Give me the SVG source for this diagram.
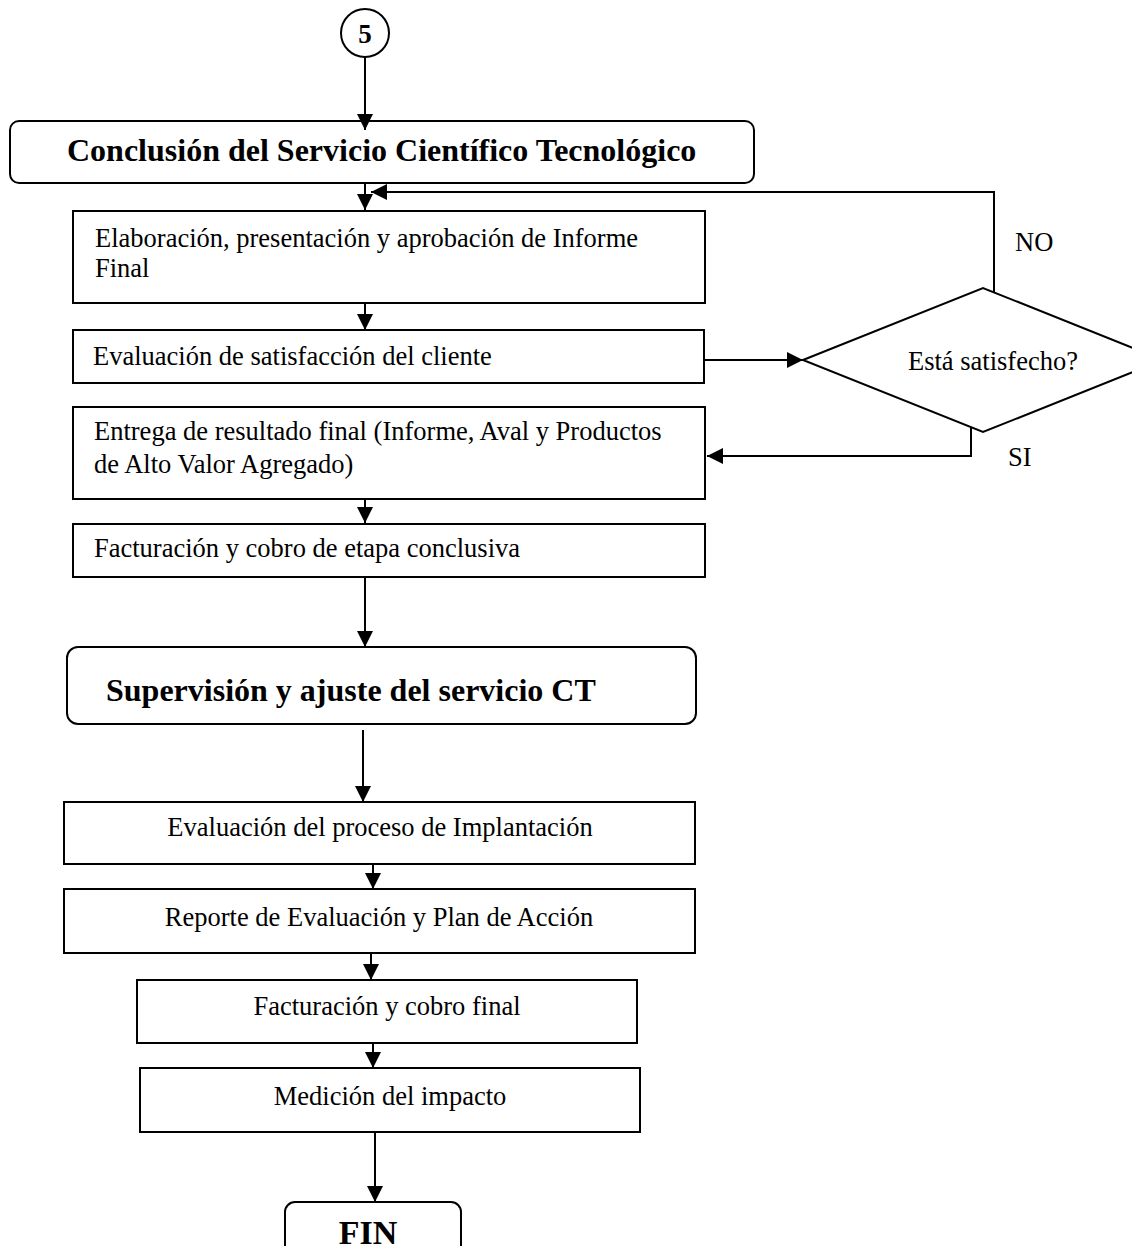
<svg xmlns="http://www.w3.org/2000/svg" width="1132" height="1246" viewBox="0 0 1132 1246">
<style>
.box{fill:#fff;stroke:#000;stroke-width:2}
.t{font-family:"Liberation Serif","Times New Roman",serif;font-size:26.5px;fill:#000}
.b{font-family:"Liberation Serif","Times New Roman",serif;font-size:32px;font-weight:bold;fill:#000}
.c{text-anchor:middle}
.ln{fill:none;stroke:#000;stroke-width:2}
</style>
<defs>
<marker id="ah" markerUnits="userSpaceOnUse" markerWidth="17" markerHeight="17" refX="16" refY="8.5" orient="auto">
<path d="M0,0.5 L16,8.5 L0,16.5 z" fill="#000"/>
</marker>
</defs>
<rect width="1132" height="1246" fill="#fff"/>

<g id="n5">
<circle class="box" cx="365" cy="33" r="24"/>
<text class="b c" x="365" y="43" style="font-size:27px">5</text>
</g>

<g id="conclusion">
<rect class="box" x="10" y="121" width="744" height="62" rx="9"/>
<text class="b" x="67" y="161">Conclusión del Servicio Científico Tecnológico</text>
</g>

<g id="elaboracion">
<rect class="box" x="73" y="211" width="632" height="92"/>
<text class="t" x="95" y="247">Elaboración, presentación y aprobación de Informe</text>
<text class="t" x="95" y="277">Final</text>
</g>

<g id="evaluacion-satisfaccion">
<rect class="box" x="73" y="330" width="631" height="53"/>
<text class="t" x="93" y="365">Evaluación de satisfacción del cliente</text>
</g>

<g id="decision">
<polygon class="box" points="803,360 983,288 1163,360 983,432"/>
<text class="t c" x="993" y="370">Está satisfecho?</text>
</g>
<g id="lbl-no"><text class="t" x="1015" y="251">NO</text></g>
<g id="lbl-si"><text class="t" x="1008" y="466">SI</text></g>

<g id="entrega">
<rect class="box" x="73" y="407" width="632" height="92"/>
<text class="t" x="94" y="440">Entrega de resultado final (Informe, Aval y Productos</text>
<text class="t" x="94" y="473">de Alto Valor Agregado)</text>
</g>

<g id="facturacion-etapa">
<rect class="box" x="73" y="524" width="632" height="53"/>
<text class="t" x="94" y="557">Facturación y cobro de etapa conclusiva</text>
</g>

<g id="supervision">
<rect class="box" x="67" y="647" width="629" height="77" rx="11"/>
<text class="b" x="106" y="701">Supervisión y ajuste del servicio CT</text>
</g>

<g id="evaluacion-implantacion">
<rect class="box" x="64" y="802" width="631" height="62"/>
<text class="t c" x="380" y="836">Evaluación del proceso de Implantación</text>
</g>

<g id="reporte">
<rect class="box" x="64" y="889" width="631" height="64"/>
<text class="t c" x="379" y="926">Reporte de Evaluación y Plan de Acción</text>
</g>

<g id="facturacion-final">
<rect class="box" x="137" y="980" width="500" height="63"/>
<text class="t c" x="387" y="1015">Facturación y cobro final</text>
</g>

<g id="medicion">
<rect class="box" x="140" y="1068" width="500" height="64"/>
<text class="t c" x="390" y="1105">Medición del impacto</text>
</g>

<g id="fin">
<rect class="box" x="285" y="1202" width="176" height="70" rx="10"/>
<text class="b c" x="368" y="1244" style="font-size:34px">FIN</text>
</g>

<g id="connectors">
<line class="ln" x1="365" y1="57" x2="365" y2="130" marker-end="url(#ah)"/>
<line class="ln" x1="365" y1="183" x2="365" y2="210" marker-end="url(#ah)"/>
<line class="ln" x1="365" y1="303" x2="365" y2="330" marker-end="url(#ah)"/>
<line class="ln" x1="705" y1="360" x2="803" y2="360" marker-end="url(#ah)"/>
<polyline class="ln" points="994,292 994,192 371,192" marker-end="url(#ah)"/>
<polyline class="ln" points="971,427 971,456 707,456" marker-end="url(#ah)"/>
<line class="ln" x1="365" y1="499" x2="365" y2="523" marker-end="url(#ah)"/>
<line class="ln" x1="365" y1="577" x2="365" y2="647" marker-end="url(#ah)"/>
<line class="ln" x1="363" y1="730" x2="363" y2="802" marker-end="url(#ah)"/>
<line class="ln" x1="373" y1="864" x2="373" y2="889" marker-end="url(#ah)"/>
<line class="ln" x1="371" y1="953" x2="371" y2="980" marker-end="url(#ah)"/>
<line class="ln" x1="373" y1="1043" x2="373" y2="1068" marker-end="url(#ah)"/>
<line class="ln" x1="375" y1="1132" x2="375" y2="1202" marker-end="url(#ah)"/>
</g>
</svg>
